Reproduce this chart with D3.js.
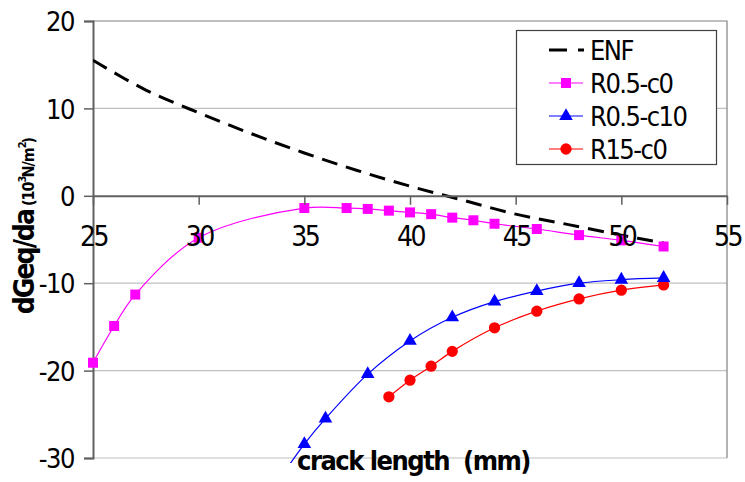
<!DOCTYPE html>
<html>
<head>
<meta charset="utf-8">
<script src="https://cdn.jsdelivr.net/npm/d3@7/dist/d3.min.js"></script>
<style>
  html, body { margin: 0; padding: 0; background: #fff; }
  svg { display: block; }
  text { font-family: "DejaVu Sans", Verdana, sans-serif; font-stretch: condensed; fill: #000; }
</style>
</head>
<body>
<svg id="chart" width="745" height="482"></svg>
<script>
// crack length (mm) and dGeq/da (10^3 N/m^2) for each series
const enfA = [25, 27.5, 30, 32.5, 35, 37.5, 40, 42.5, 45, 47.5, 50, 52];
const enfV = [15.5, 12.1, 9.5, 7.1, 4.9, 2.9, 1.1, -0.5, -2.1, -3.3, -4.5, -5.4];

const r05c0A = [25, 26, 27, 30, 35, 37, 38, 39, 40, 41, 42, 43, 44, 46, 48, 50, 52];
const r05c0V = [-19.1, -14.9, -11.3, -4.8, -1.4, -1.4, -1.5, -1.7, -1.9, -2.1, -2.5, -2.8, -3.2, -3.8, -4.5, -5.1, -5.8];

const r05c10A = [34, 35, 36, 38, 40, 42, 44, 46, 48, 50, 52];
const r05c10V = [-31.8, -28.4, -25.5, -20.4, -16.6, -13.9, -12.1, -10.9, -10.0, -9.6, -9.4];

const r15c0A = [39, 40, 41, 42, 44, 46, 48, 50, 52];
const r15c0V = [-23.0, -21.1, -19.5, -17.8, -15.1, -13.2, -11.8, -10.8, -10.2];

const xTicks = [25, 30, 35, 40, 45, 50, 55];
const yTicks = [20, 10, 0, -10, -20, -30];
const seriesNames = ["ENF", "R0.5-c0", "R0.5-c10", "R15-c0"];

const svg = d3.select("#chart");
const plot = { left: 93, right: 727, top: 21, bottom: 458 };

const x = d3.scaleLinear().domain([25, 55]).range([plot.left, plot.right]);
const y = d3.scaleLinear().domain([-30, 20]).range([plot.bottom, plot.top]);
const fmt = d => String(d);

// horizontal gridlines
svg.append("g")
  .selectAll("line")
  .data(yTicks.filter(v => v !== 0 && v !== 20))
  .join("line")
  .attr("x1", plot.left).attr("x2", plot.right)
  .attr("y1", d => y(d)).attr("y2", d => y(d))
  .attr("stroke", "#c0c0c0").attr("stroke-width", 1.2);

// plot frame (top and right)
svg.append("path")
  .attr("d", `M${plot.left},${plot.top}H${plot.right}V${plot.bottom}`)
  .attr("fill", "none").attr("stroke", "#808080").attr("stroke-width", 1.2);

// y axis
const yAxis = svg.append("g")
  .attr("transform", `translate(${plot.left},0)`)
  .call(d3.axisLeft(y).tickValues(yTicks).tickSize(9).tickPadding(10).tickFormat(fmt));
yAxis.select(".domain").attr("stroke", "#606060").attr("stroke-width", 2);
yAxis.selectAll(".tick line").attr("stroke", "#606060").attr("stroke-width", 1.5);
yAxis.selectAll(".tick text")
  .attr("font-size", 27).attr("letter-spacing", -1.5)
  .attr("font-family", "DejaVu Sans").attr("dy", "0.36em");

// clip for the curves
svg.append("clipPath").attr("id", "plotClip")
  .append("rect")
  .attr("x", plot.left).attr("y", plot.top)
  .attr("width", plot.right - plot.left).attr("height", plot.bottom - plot.top + 5);
svg.append("clipPath").attr("id", "markClip")
  .append("rect")
  .attr("x", plot.left - 10).attr("y", plot.top - 10)
  .attr("width", plot.right - plot.left + 20).attr("height", plot.bottom - plot.top + 10);

const curve = d3.curveCatmullRom.alpha(0.5);
const line = d3.line().x(d => x(d[0])).y(d => y(d[1])).curve(curve);
const zip = (a, v) => a.map((d, i) => [d, v[i]]);

const enf = zip(enfA, enfV);
const s1 = zip(r05c0A, r05c0V);
const s2 = zip(r05c10A, r05c10V);
const s3 = zip(r15c0A, r15c0V);

const g = svg.append("g").attr("clip-path", "url(#plotClip)");

g.append("path").datum(s3).attr("d", line)
  .attr("fill", "none").attr("stroke", "#ff0000").attr("stroke-width", 1.2);
g.append("path").datum(s2).attr("d", line)
  .attr("fill", "none").attr("stroke", "#0000ff").attr("stroke-width", 1.2);
g.append("path").datum(s1).attr("d", line)
  .attr("fill", "none").attr("stroke", "#ff00ff").attr("stroke-width", 1.2);
g.append("path").datum(enf).attr("d", line)
  .attr("fill", "none").attr("stroke", "#000").attr("stroke-width", 3)
  .attr("stroke-dasharray", "16,9");

const sq = d3.symbol().type(d3.symbolSquare).size(100);
const tri = d3.symbol().type(d3.symbolTriangle).size(80);
const circ = d3.symbol().type(d3.symbolCircle).size(100);

const markers = svg.append("g").attr("clip-path", "url(#markClip)");
markers.selectAll(".m3").data(s3).join("path")
  .attr("transform", d => `translate(${x(d[0])},${y(d[1])})`)
  .attr("d", circ).attr("fill", "#ff0000");
markers.selectAll(".m2").data(s2).join("path")
  .attr("transform", d => `translate(${x(d[0])},${y(d[1])})`)
  .attr("d", tri).attr("fill", "#0000ff");
markers.selectAll(".m1").data(s1).join("path")
  .attr("transform", d => `translate(${x(d[0])},${y(d[1])})`)
  .attr("d", sq).attr("fill", "#ff00ff");

// x axis drawn through y = 0, labels above the curves
const xAxis = svg.append("g")
  .attr("transform", `translate(0,${y(0)})`)
  .call(d3.axisBottom(x).tickValues(xTicks).tickSizeInner(9).tickSizeOuter(0).tickPadding(24).tickFormat(fmt));
xAxis.select(".domain").attr("stroke", "#606060").attr("stroke-width", 2);
xAxis.selectAll(".tick line").attr("stroke", "#606060").attr("stroke-width", 1.5);
xAxis.selectAll(".tick text")
  .attr("font-size", 28).attr("letter-spacing", -2.5)
  .attr("font-family", "DejaVu Sans").attr("dy", "0.6em");

// legend
const lg = svg.append("g");
lg.append("rect").attr("x", 516.5).attr("y", 30.5).attr("width", 200).attr("height", 134)
  .attr("fill", "#fff").attr("stroke", "#404040").attr("stroke-width", 1.2);
const legendRows = [
  { name: seriesNames[0], color: "#000", sym: null },
  { name: seriesNames[1], color: "#ff00ff", sym: sq },
  { name: seriesNames[2], color: "#0000ff", sym: tri },
  { name: seriesNames[3], color: "#ff0000", sym: circ }
];
legendRows.forEach((r, i) => {
  const cy = 50 + i * 33;
  if (r.sym === null) {
    lg.append("line").attr("x1", 549).attr("x2", 584).attr("y1", cy).attr("y2", cy)
      .attr("stroke", "#000").attr("stroke-width", 3).attr("stroke-dasharray", "18,11");
  } else {
    lg.append("line").attr("x1", 549).attr("x2", 583).attr("y1", cy).attr("y2", cy)
      .attr("stroke", r.color).attr("stroke-width", 1.2);
    lg.append("path").attr("transform", `translate(566,${cy})`).attr("d", r.sym).attr("fill", r.color);
  }
  lg.append("text").attr("x", 590).attr("y", cy).attr("dy", "0.36em")
    .attr("font-size", 27).attr("letter-spacing", -1.5).text(r.name);
});

// axis titles
svg.append("text")
  .attr("x", 297).attr("y", 470)
  .attr("font-size", 27).attr("font-weight", "bold").attr("letter-spacing", -1.5)
  .attr("xml:space", "preserve")
  .text("crack length  (mm)");

const yt = svg.append("text")
  .attr("transform", "translate(34,226) rotate(-90)")
  .attr("text-anchor", "middle")
  .attr("font-weight", "bold").attr("letter-spacing", -2);
yt.append("tspan").attr("font-size", 28).text("dGeq/da");
yt.append("tspan").attr("font-size", 16).attr("letter-spacing", -1).text(" (10");
yt.append("tspan").attr("font-size", 11).attr("dy", -8).text("3");
yt.append("tspan").attr("font-size", 16).attr("letter-spacing", -1).attr("dy", 8).text("N/m");
yt.append("tspan").attr("font-size", 11).attr("dy", -8).text("2");
yt.append("tspan").attr("font-size", 16).attr("letter-spacing", -1).attr("dy", 8).text(")");
</script>
</body>
</html>
